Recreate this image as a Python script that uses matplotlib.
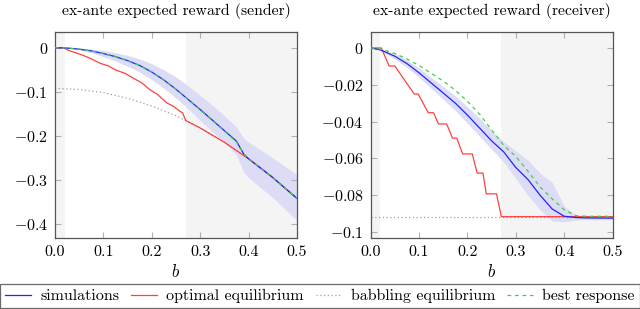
import numpy as np
import matplotlib.pyplot as plt

plt.rcParams['font.family'] = 'serif'
plt.rcParams['font.serif'] = ['cmr10', 'DejaVu Serif']
plt.rcParams['mathtext.fontset'] = 'cm'
plt.rcParams['axes.unicode_minus'] = False

# ---- data ----
b = [0, 0.02, 0.05, 0.075, 0.1, 0.125, 0.15, 0.175, 0.2, 0.225, 0.25,
     0.275, 0.3, 0.325, 0.35, 0.375, 0.39, 0.4, 0.45, 0.5]

# sender
snd_sim = [0, 0, -0.003, -0.007, -0.013, -0.020, -0.029, -0.040, -0.055, -0.073, -0.094,
           -0.117, -0.140, -0.164, -0.188, -0.212, -0.241, -0.252, -0.2945, -0.342]
snd_best = [0, 0, -0.003, -0.007, -0.013, -0.020, -0.029, -0.040, -0.055, -0.073, -0.094,
            -0.117, -0.141, -0.165, -0.189, -0.214, -0.241, -0.252, -0.2945, -0.342]
snd_lo = [0, 0, -0.005, -0.011, -0.020, -0.030, -0.042, -0.055, -0.072, -0.092, -0.114,
          -0.138, -0.165, -0.190, -0.215, -0.243, -0.283, -0.295, -0.340, -0.392]
snd_hi = [0, 0, -0.001, -0.003, -0.006, -0.011, -0.017, -0.025, -0.036, -0.050, -0.066,
          -0.086, -0.108, -0.130, -0.154, -0.180, -0.205, -0.214, -0.250, -0.288]

snd_opt_b = [0, 0.017, 0.031, 0.045, 0.06, 0.075, 0.093, 0.11, 0.127, 0.145, 0.162,
             0.18, 0.196, 0.212, 0.231, 0.245, 0.258, 0.264, 0.27,
             0.3, 0.35, 0.4, 0.45, 0.5]
snd_opt = [0, 0, -0.007, -0.012, -0.018, -0.025, -0.035, -0.041, -0.051, -0.058, -0.069,
           -0.080, -0.095, -0.106, -0.125, -0.133, -0.144, -0.148, -0.165,
           -0.182, -0.2145, -0.252, -0.2945, -0.342]

bab_b = [0, 0.05, 0.1, 0.15, 0.2, 0.25, 0.3, 0.35, 0.4, 0.45, 0.5]
snd_bab = [-0.092, -0.0945, -0.102, -0.1145, -0.132, -0.1545, -0.182, -0.2145, -0.252, -0.2945, -0.342]

# receiver
rb = [0, 0.02, 0.05, 0.075, 0.1, 0.125, 0.15, 0.175, 0.2, 0.225, 0.25,
      0.275, 0.3, 0.325, 0.35, 0.375, 0.4, 0.425, 0.45, 0.5]
rcv_sim = [0, -0.001, -0.0045, -0.0085, -0.0135, -0.019, -0.0245, -0.030, -0.0365, -0.0435, -0.0505,
           -0.0565, -0.065, -0.0715, -0.080, -0.0875, -0.0915, -0.0922, -0.0924, -0.0925]
rcv_best = [0, -0.0005, -0.003, -0.006, -0.0095, -0.0138, -0.018, -0.023, -0.029, -0.036, -0.0445,
            -0.053, -0.059, -0.067, -0.0755, -0.082, -0.088, -0.0912, -0.0915, -0.0915]
rcv_lo = [0, -0.0015, -0.006, -0.0105, -0.016, -0.022, -0.028, -0.034, -0.041, -0.048, -0.055,
          -0.062, -0.071, -0.080, -0.088, -0.094, -0.0945, -0.0935, -0.0933, -0.0933]
rcv_hi = [0, -0.0005, -0.003, -0.0065, -0.011, -0.016, -0.021, -0.026, -0.032, -0.038, -0.045,
          -0.051, -0.056, -0.061, -0.068, -0.073, -0.086, -0.0910, -0.0915, -0.0915]

rcv_opt_b = [0, 0.022, 0.038, 0.05, 0.074, 0.09, 0.098, 0.119, 0.13, 0.14, 0.157,
             0.169, 0.178, 0.19, 0.21, 0.22, 0.232, 0.239, 0.26, 0.27, 0.5]
rcv_opt = [0, 0, -0.0098, -0.0098, -0.019, -0.025, -0.025, -0.0352, -0.0352, -0.0413, -0.0413,
           -0.049, -0.049, -0.0576, -0.0576, -0.068, -0.068, -0.0793, -0.0793, -0.0917, -0.0917]
rcv_bab = [-0.0917] * len(bab_b)

c_blue = '#2424ff'
c_red = '#ff4040'
c_green = '#44d044'
c_gray = '#a0a0a0'
c_band = '#dcdcf6'
c_shade = '#f4f4f4'

fig = plt.figure(figsize=(6.4, 3.09), dpi=100)
ax1 = fig.add_axes([0.0859, 0.2298, 0.378, 0.6667])
ax2 = fig.add_axes([0.5792, 0.2298, 0.378, 0.6667])


def panel(ax, xb, sim, best, lo, hi, ob, opt, bab, title):
    ax.axvspan(0, 0.02, color=c_shade, lw=0, zorder=0)
    ax.axvspan(0.27, 0.5, color=c_shade, lw=0, zorder=0)
    ax.fill_between(xb, lo, hi, color=c_band, lw=0, zorder=1)
    ax.plot(bab_b, bab, color=c_gray, ls=(0, (1, 2)), lw=0.9, zorder=2)
    ax.plot(ob, opt, color=c_red, lw=0.9, zorder=3)
    ax.plot(xb, sim, color=c_blue, lw=0.9, zorder=4)
    ax.plot(xb, best, color=c_green, lw=0.9, ls=(0, (3, 3)), zorder=5)
    ax.set_xlim(0, 0.5)
    ax.set_xticks([0, 0.1, 0.2, 0.3, 0.4, 0.5])
    ax.set_xticklabels(['0.0', '0.1', '0.2', '0.3', '0.4', '0.5'])
    ax.set_xlabel(r'$b$', fontsize=12, labelpad=3)
    ax.set_title(title, fontsize=11.3, pad=12)
    ax.tick_params(direction='in', top=True, right=True, color='#b0b0b0',
                   length=4, labelsize=11.5, pad=5)
    for s in ax.spines.values():
        s.set_color('#555555')
        s.set_linewidth(0.9)


panel(ax1, b, snd_sim, snd_best, snd_lo, snd_hi, snd_opt_b, snd_opt, snd_bab,
      'ex-ante expected reward (sender)')
ax1.set_ylim(-0.432, 0.036)
ax1.set_yticks([0, -0.1, -0.2, -0.3, -0.4])
ax1.set_yticklabels(['$0$', '$-0.1$', '$-0.2$', '$-0.3$', '$-0.4$'])

panel(ax2, rb, rcv_sim, rcv_best, rcv_lo, rcv_hi, rcv_opt_b, rcv_opt, rcv_bab,
      'ex-ante expected reward (receiver)')
ax2.set_ylim(-0.1033, 0.0087)
ax2.set_yticks([0, -0.02, -0.04, -0.06, -0.08, -0.1])
ax2.set_yticklabels(['$0$', '$-0.02$', '$-0.04$', '$-0.06$', '$-0.08$', '$-0.1$'])

handles = [
    plt.Line2D([], [], color=c_blue, lw=0.9),
    plt.Line2D([], [], color=c_red, lw=0.9),
    plt.Line2D([], [], color=c_gray, lw=0.9, ls=(0, (1, 2))),
    plt.Line2D([], [], color=c_green, lw=0.9, ls=(0, (3, 3))),
]
labels = ['simulations', 'optimal equilibrium', 'babbling equilibrium', 'best response']
leg = fig.legend(handles, labels, loc='lower center', bbox_to_anchor=(0.5, 0.002),
                 ncol=4, fontsize=11.5, frameon=True, fancybox=False,
                 handlelength=1.6, columnspacing=0.75, borderpad=0.32,
                 handletextpad=0.6, borderaxespad=0.0)
leg.get_frame().set_edgecolor('#444444')
leg.get_frame().set_linewidth(0.9)

fig.savefig('out.png', dpi=100)
